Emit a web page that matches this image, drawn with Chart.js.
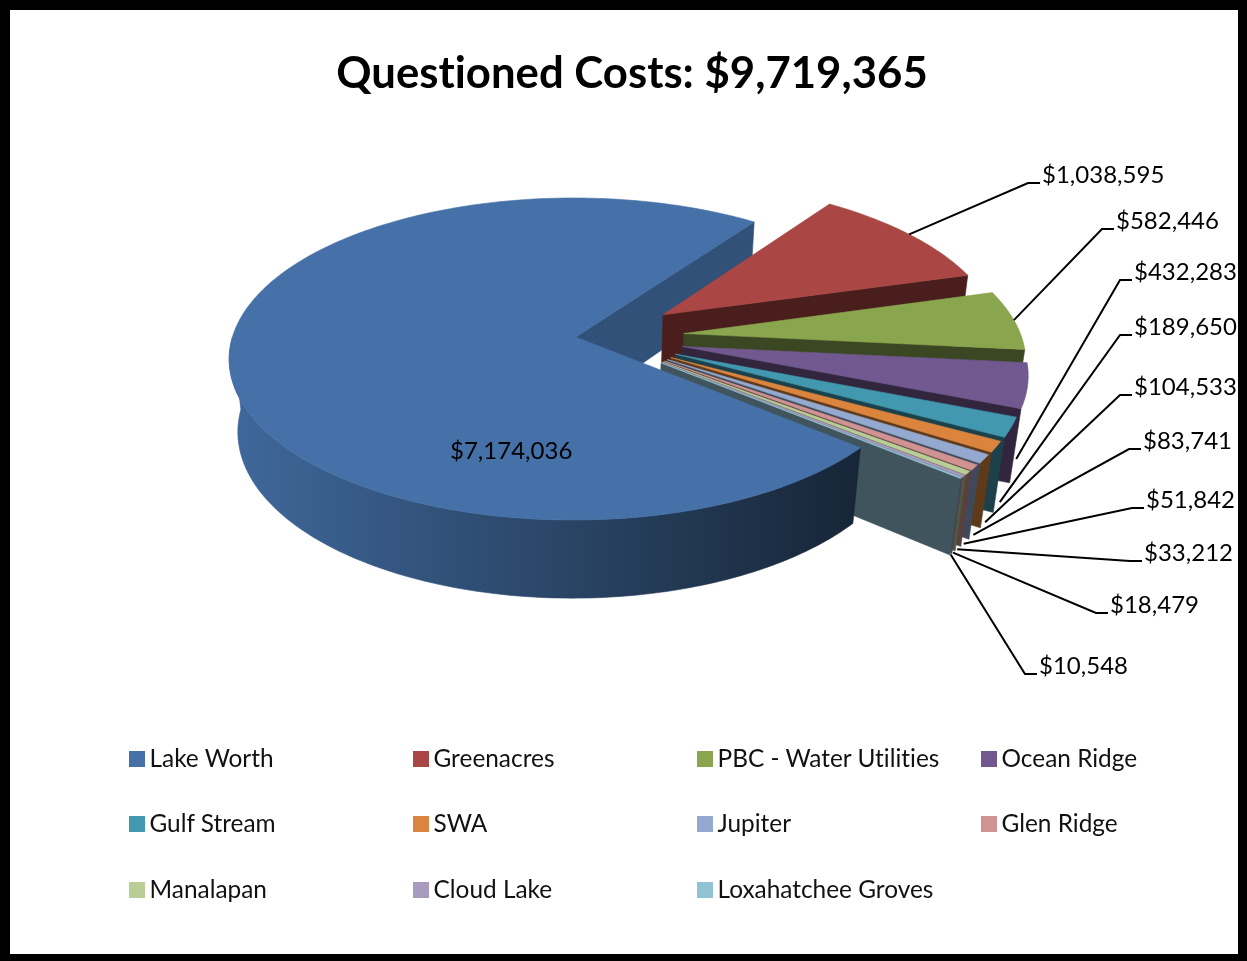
<!DOCTYPE html>
<html>
<head>
<meta charset="utf-8">
<title>Questioned Costs</title>
<script src="https://cdn.jsdelivr.net/npm/chart.js@4"></script>
<style>
    html, body { margin: 0; padding: 0; background: #fff; overflow: hidden; }
    body { width: 1247px; height: 961px; position: relative; font-family: Lato, sans-serif; }
    #costChart { position: absolute; left: 0; top: 0; }
    #frame {
        position: absolute; left: 0; top: 0; width: 1247px; height: 961px; box-sizing: border-box;
        border-style: solid; border-color: #000; border-width: 10px 9px 7px 10px; pointer-events: none;
    }
    .legend-item { position: absolute; font-size: 24.4px; line-height: 30px; color: #111; white-space: nowrap; padding-left: 20.5px; font-variant-ligatures: none; }
    .legend-item i { position: absolute; left: 0; top: 8px; width: 16px; height: 16px; }
</style>
</head>
<body>
<canvas id="costChart" width="1264" height="961"></canvas>
<div id="legend"></div>
<div id="frame"></div>
<script>
const categories = ["Lake Worth", "Greenacres", "PBC - Water Utilities", "Ocean Ridge", "Gulf Stream", "SWA", "Jupiter", "Glen Ridge", "Manalapan", "Cloud Lake", "Loxahatchee Groves"];
const costs = [7174036, 1038595, 582446, 432283, 189650, 104533, 83741, 51842, 33212, 18479, 10548];
const sliceColors = ["#4571a8", "#aa4643", "#89a54e", "#71588f", "#4198af", "#db843d", "#93a9cf", "#d19392", "#b9cd96", "#a99bbd", "#92c3d5"];
const wallShades = [1, 0.6, 0.6, 0.5, 0.6, 0.78, 0.62, 0.65, 0.65, 0.7, 0.7];

// value label placement, first slice has no leader line
const labelX = [450, 1042, 1116, 1134, 1134, 1134, 1143, 1146, 1144, 1110, 1039];
const labelY = [451, 175, 221, 272, 327, 387, 441, 500, 553, 605, 666];
// which rim the leader line lands on: 0 top edge, 1 bottom edge
const leaderDepth = [0, 0, 0, 1, 1, 1, 1, 1, 1, 1, 1];

// perspective camera for the tilted pie
const view = { cx: 575.5, cy: 337, rx: 341, ry: 158, tilt: 0.1366, skew: 0.006, height: 74, shrink: 0.025 };
const explodeX = 0.32;
const explodeY = 0.25;

function project(a, b, z) {
    const w = 1 - view.tilt * b + view.skew * a + view.shrink * z;
    return [view.cx + view.rx * a / w, view.cy + (view.ry * b + view.height * z) / w];
}

function slicePoint(arc, angle, r, z) {
    const mid = (arc.startAngle + arc.endAngle) / 2;
    const moved = arc.$context.dataIndex === 0 ? 0 : 1;
    return project(r * Math.cos(angle) + moved * explodeX * Math.cos(mid), r * Math.sin(angle) + moved * explodeY * Math.sin(mid), z);
}

function shade(hex, f) {
    const n = parseInt(hex.slice(1), 16);
    return `rgb(${Math.round((n >> 16) * f)}, ${Math.round(((n >> 8) & 255) * f)}, ${Math.round((n & 255) * f)})`;
}

function fillPoly(ctx, points, fill) {
    ctx.beginPath();
    points.forEach((p, i) => (i ? ctx.lineTo(p[0], p[1]) : ctx.moveTo(p[0], p[1])));
    ctx.closePath();
    ctx.fillStyle = fill;
    ctx.fill();
    ctx.strokeStyle = fill;
    ctx.lineWidth = 0.6;
    ctx.stroke();
}

function rimPoints(arc, from, to, z) {
    const steps = Math.max(8, Math.ceil((to - from) * 60));
    const points = [];
    for (let i = 0; i <= steps; i++) {
        points.push(slicePoint(arc, from + (to - from) * i / steps, 1, z));
    }
    return points;
}

function drawEndFace(ctx, arc, color, f) {
    const end = arc.endAngle;
    fillPoly(ctx, [slicePoint(arc, end, 0, 0), slicePoint(arc, end, 1, 0), slicePoint(arc, end, 1, 1), slicePoint(arc, end, 0, 1)], shade(color, f));
}

// only the part of the rim that faces the viewer gets a wall
function drawWall(ctx, arc, fill) {
    const from = Math.max(arc.startAngle, 0);
    const to = Math.min(arc.endAngle, Math.PI);
    if (to <= from) return;
    fillPoly(ctx, rimPoints(arc, from, to, 0).concat(rimPoints(arc, from, to, 1).reverse()), fill);
}

function drawTop(ctx, arc, color) {
    fillPoly(ctx, [slicePoint(arc, 0, 0, 0)].concat(rimPoints(arc, arc.startAngle, arc.endAngle, 0)), color);
}

function lakeWallFill(ctx, color) {
    const g = ctx.createLinearGradient(230, 0, 860, 0);
    g.addColorStop(0, shade(color, 0.92));
    g.addColorStop(0.37, shade(color, 0.7));
    g.addColorStop(0.67, shade(color, 0.52));
    g.addColorStop(1, shade(color, 0.33));
    return g;
}

const pie3d = {
    id: "pie3d",
    beforeDraw(chart) {
        chart.ctx.letterSpacing = "0.01px"; // keeps ti/fi ligatures out of the labels
    },
    // the arcs keep their angles from the pie controller, painting happens here
    beforeDatasetDraw(chart) {
        const ctx = chart.ctx;
        const arcs = chart.getDatasetMeta(0).data;
        ctx.save();
        drawEndFace(ctx, arcs[0], sliceColors[0], 0.72);
        for (let i = 1; i < arcs.length; i++) {
            drawWall(ctx, arcs[i], shade(sliceColors[i], wallShades[i]));
            drawEndFace(ctx, arcs[i], sliceColors[i], 0.43);
            drawTop(ctx, arcs[i], sliceColors[i]);
        }
        drawWall(ctx, arcs[0], lakeWallFill(ctx, sliceColors[0]));
        drawTop(ctx, arcs[0], sliceColors[0]);
        ctx.restore();
        return false;
    },
    afterDatasetsDraw(chart) {
        const ctx = chart.ctx;
        const arcs = chart.getDatasetMeta(0).data;
        ctx.save();
        ctx.font = "24px Lato";
        ctx.textBaseline = "middle";
        ctx.textAlign = "left";
        ctx.strokeStyle = "#000";
        ctx.lineWidth = 2;
        arcs.forEach((arc, i) => {
            if (i > 0) {
                const mid = (arc.startAngle + arc.endAngle) / 2;
                const p = slicePoint(arc, mid, 1, leaderDepth[i]);
                ctx.beginPath();
                ctx.moveTo(p[0], p[1]);
                ctx.lineTo(labelX[i] - 14, labelY[i] + 8);
                ctx.lineTo(labelX[i] - 2, labelY[i] + 8);
                ctx.stroke();
            }
            ctx.fillStyle = "#000";
            ctx.fillText("$" + costs[i].toLocaleString("en-US"), labelX[i], labelY[i]);
        });
        ctx.restore();
    },
};

new Chart(document.getElementById("costChart"), {
    type: "pie",
    data: {
        labels: categories,
        datasets: [{ data: costs, backgroundColor: sliceColors, clip: false }],
    },
    options: {
        responsive: false,
        animation: false,
        events: [],
        rotation: 130,
        layout: { padding: { top: 30 } },
        plugins: {
            legend: { display: false },
            tooltip: { enabled: false },
            title: {
                display: true,
                text: "Questioned Costs: $9,719,365",
                color: "#000",
                font: { family: "Lato", size: 43.7, weight: "bold" },
                padding: { top: 18, bottom: 0 },
            },
        },
    },
    plugins: [pie3d],
});

// legend laid out in fixed columns
const legendBox = document.getElementById("legend");
categories.forEach((name, i) => {
    const item = document.createElement("div");
    item.className = "legend-item";
    item.style.left = 129 + 284 * (i % 4) + "px";
    item.style.top = [743, 808, 874][Math.floor(i / 4)] + "px";
    item.innerHTML = `<i style="background:${sliceColors[i]}"></i>${name}`;
    legendBox.appendChild(item);
});
</script>
</body>
</html>
